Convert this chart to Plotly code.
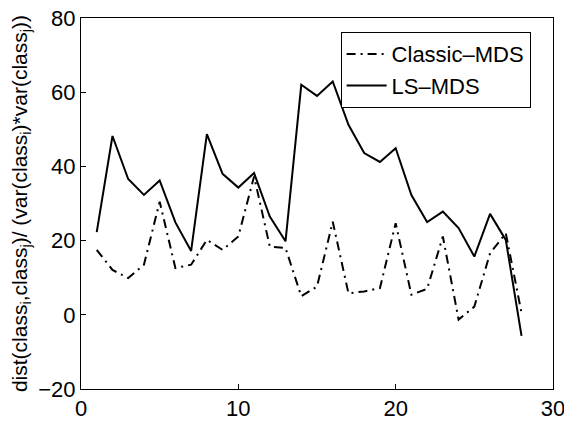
import plotly.graph_objects as go

x_index = list(range(1, 29))
classic_mds = [17.5, 12.1, 9.9, 13.5, 30.5, 12.6, 13.5, 20.2, 17.5, 21.1,
               37.3, 18.4, 18.0, 5.0, 7.6, 25.1, 5.8, 6.3, 7.2, 24.7,
               5.4, 7.0, 21.1, -1.3, 2.2, 16.6, 22.0, 0.5]
ls_mds = [22.3, 48.2, 36.6, 32.3, 36.2, 24.9, 17.2, 48.7, 38.0, 34.3,
          38.2, 26.5, 19.8, 62.0, 59.0, 62.9, 51.2, 43.6, 41.2, 44.9,
          32.3, 25.0, 27.8, 23.4, 15.7, 27.2, 20.2, -5.7]
x_ticks = [0, 10, 20, 30]
y_ticks = [-20, 0, 20, 40, 60, 80]

fig = go.Figure()
fig.add_trace(go.Scatter(x=x_index, y=classic_mds, mode="lines", name="Classic\u2013MDS",
                         line=dict(color="black", width=2, dash="9px,5px,2px,5px")))
fig.add_trace(go.Scatter(x=x_index, y=ls_mds, mode="lines", name="LS\u2013MDS",
                         line=dict(color="black", width=2)))

font_family = "Liberation Sans, Arial, Helvetica, sans-serif"
# page body has an 8px default margin; figure is sized to compensate
fig.update_layout(
    width=564, height=415,
    margin=dict(l=73, r=19, t=10, b=34, autoexpand=False),
    paper_bgcolor="white", plot_bgcolor="white",
    font=dict(family=font_family, color="black"),
    showlegend=True,
    legend=dict(x=0.55, y=0.962, xanchor="left", yanchor="top",
                bordercolor="black", borderwidth=1, bgcolor="white",
                font=dict(size=22, family=font_family), tracegroupgap=0,
                itemwidth=40),
)
fig.update_xaxes(range=[0, 30], tickvals=x_ticks, ticks="inside", ticklen=5,
                 tickcolor="black", showline=True, linecolor="black", linewidth=1,
                 mirror=True, showgrid=False, zeroline=False, automargin=False,
                 ticklabeloverflow="allow",
                 tickfont=dict(size=22, family=font_family))
fig.update_yaxes(range=[-20, 80], tickvals=y_ticks, ticks="inside", ticklen=5,
                 tickcolor="black", showline=True, linecolor="black", linewidth=1,
                 mirror=True, showgrid=False, zeroline=False, automargin=False,
                 ticklabeloverflow="allow",
                 tickfont=dict(size=22, family=font_family),
                 title=dict(text="dist(class<sub>i</sub>,class<sub>j</sub>)/ (var(class<sub>i</sub>)*var(class<sub>j</sub>))",
                            font=dict(size=21, family=font_family), standoff=9))

fig.write_html("out.html")
